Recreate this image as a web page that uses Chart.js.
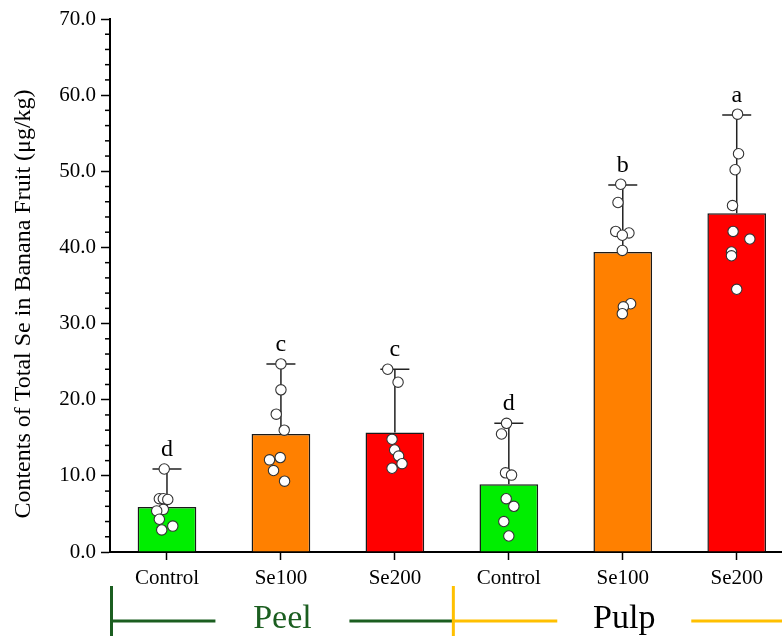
<!DOCTYPE html>
<html>
<head>
<meta charset="utf-8">
<script src="https://cdn.jsdelivr.net/npm/chart.js@4.4.1/dist/chart.umd.min.js"></script>
<style>
html,body{margin:0;padding:0;background:#fff;overflow:hidden;}
#wrap{position:absolute;left:0;top:0;width:800px;height:636px;}
</style>
</head>
<body>
<div id="wrap"><canvas id="c"></canvas></div>
<script>
// ---- data ----
const categories = ['Control', 'Se100', 'Se200', 'Control', 'Se100', 'Se200'];
const groups = ['Peel', 'Pulp'];
const means = [5.9, 15.5, 15.7, 8.9, 39.4, 44.5];
const upperSD = [10.9, 24.7, 24.0, 16.9, 48.2, 57.4];
const letters = ['d', 'c', 'c', 'd', 'b', 'a'];
const yTicks = [0, 10, 20, 30, 40, 50, 60, 70];

const peelControl = [10.9, 7.0, 7.0, 6.9, 5.6, 5.4, 4.3, 3.4, 2.9];
const peelSe100 = [24.7, 21.3, 18.1, 16.0, 12.4, 12.1, 10.7, 9.3];
const peelSe200 = [24.0, 22.3, 14.8, 13.4, 12.6, 11.6, 11.0];
const pulpControl = [16.9, 15.5, 10.4, 10.1, 7.0, 6.0, 4.0, 2.1];
const pulpSe100 = [48.3, 45.9, 42.1, 41.9, 41.6, 39.6, 32.6, 32.2, 31.3];
const pulpSe200 = [57.5, 52.3, 50.2, 45.5, 42.1, 41.1, 39.4, 38.9, 34.5];
// horizontal jitter of the replicate dots, in category widths
const jitterPeelControl = [-0.024, -0.067, -0.032, 0.007, -0.032, -0.090, -0.067, 0.051, -0.046];
const jitterPeelSe100 = [0, 0, -0.041, 0.029, -0.006, -0.100, -0.065, 0.032];
const jitterPeelSe200 = [-0.063, 0.028, -0.025, -0.002, 0.033, 0.063, -0.025];
const jitterPulpControl = [-0.020, -0.064, -0.029, 0.024, -0.023, 0.044, -0.044, 0];
const jitterPulpSe100 = [-0.018, -0.042, -0.062, 0.054, -0.004, -0.004, 0.069, 0.005, -0.004];
const jitterPulpSe200 = [0.007, 0.016, -0.014, -0.037, -0.032, 0.115, -0.046, -0.046, 0];

const pointSets = [peelControl, peelSe100, peelSe200, pulpControl, pulpSe100, pulpSe200];
const jitterSets = [jitterPeelControl, jitterPeelSe100, jitterPeelSe200, jitterPulpControl, jitterPulpSe100, jitterPulpSe200];

const barColors = ['#00ee00', '#ff8000', '#ff0000', '#00ee00', '#ff8000', '#ff0000'];
const SERIF = "'Liberation Serif', 'Times New Roman', serif";
const GREEN_DARK = '#1b5e20';
const YELLOW = '#ffc000';

const scatterData = [];
pointSets.forEach((vals, i) => vals.forEach((v, k) => scatterData.push({x: i + jitterSets[i][k], y: v})));

const errorPlugin = {
  id: 'errorBars',
  afterDatasetDraw(chart, args) {
    if (args.index !== 0) return;
    const ctx = chart.ctx, xs = chart.scales.x, ys = chart.scales.y;
    ctx.save();
    ctx.strokeStyle = '#222';
    ctx.lineWidth = 1.5;
    means.forEach((m, i) => {
      const x = xs.getPixelForValue(i);
      const y1 = ys.getPixelForValue(m), y2 = ys.getPixelForValue(upperSD[i]);
      ctx.beginPath();
      ctx.moveTo(x, y1); ctx.lineTo(x, y2);
      ctx.moveTo(x - 14.5, y2); ctx.lineTo(x + 14.5, y2);
      ctx.stroke();
    });
    ctx.restore();
  },
  afterDraw(chart) {
    const ctx = chart.ctx, xs = chart.scales.x, ys = chart.scales.y, ca = chart.chartArea;
    ctx.save();
    // letters
    ctx.fillStyle = '#000';
    ctx.font = '24px ' + SERIF;
    ctx.textAlign = 'center';
    ctx.textBaseline = 'alphabetic';
    letters.forEach((l, i) => {
      ctx.fillText(l, xs.getPixelForValue(i), ys.getPixelForValue(upperSD[i]) - 13);
    });
    // minor ticks on y
    ctx.strokeStyle = '#000';
    ctx.lineWidth = 1.5;
    for (let v = 2; v < 70; v += 2) {
      if (v % 10 === 0) continue;
      const y = ys.getPixelForValue(v);
      ctx.beginPath();
      ctx.moveTo(ca.left - 5, y); ctx.lineTo(ca.left, y);
      ctx.stroke();
    }
    // y title
    ctx.save();
    ctx.translate(24, 304);
    ctx.rotate(-Math.PI / 2);
    ctx.font = '24px ' + SERIF;
    ctx.textAlign = 'center';
    ctx.textBaseline = 'middle';
    ctx.fillStyle = '#000';
    ctx.fillText('Contents of Total Se in Banana Fruit (\u03bcg/kg)', 0, 0);
    ctx.restore();
    // group annotation
    const w = xs.getPixelForValue(1) - xs.getPixelForValue(0);
    const e0 = xs.getPixelForValue(0) - w / 2 + 1.5;
    const e1 = e0 + 3 * w, e2 = e0 + 6 * w;
    const lineY = 621, gap = 67;
    const c0 = (e0 + e1) / 2, c1 = (e1 + e2) / 2;
    ctx.lineWidth = 3;
    ctx.strokeStyle = GREEN_DARK;
    ctx.beginPath();
    ctx.moveTo(e0, lineY); ctx.lineTo(c0 - gap, lineY);
    ctx.moveTo(c0 + gap, lineY); ctx.lineTo(e1, lineY);
    ctx.moveTo(e0, 586); ctx.lineTo(e0, 640);
    ctx.stroke();
    ctx.strokeStyle = YELLOW;
    ctx.beginPath();
    ctx.moveTo(e1, lineY); ctx.lineTo(c1 - gap, lineY);
    ctx.moveTo(c1 + gap, lineY); ctx.lineTo(e2, lineY);
    ctx.moveTo(e1, 586); ctx.lineTo(e1, 640);
    ctx.stroke();
    ctx.font = '34px ' + SERIF;
    ctx.textAlign = 'center';
    ctx.textBaseline = 'alphabetic';
    ctx.fillStyle = GREEN_DARK;
    ctx.fillText(groups[0], c0, 628);
    ctx.fillStyle = '#000';
    ctx.fillText(groups[1], c1, 628);
    ctx.restore();
  }
};

new Chart(document.getElementById('c'), {
  type: 'bar',
  data: {
    labels: categories,
    datasets: [
      {
        type: 'bar',
        data: means,
        backgroundColor: barColors,
        borderColor: '#1a1a1a',
        borderWidth: 1.5,
        barPercentage: 0.515,
        categoryPercentage: 1,
        grouped: false,
        order: 2,
        xAxisID: 'x', yAxisID: 'y'
      },
      {
        type: 'scatter',
        data: scatterData,
        pointRadius: 5.2,
        pointBackgroundColor: '#fff',
        pointBorderColor: '#333',
        pointBorderWidth: 1.1,
        showLine: false,
        order: 1,
        xAxisID: 'xs', yAxisID: 'y'
      }
    ]
  },
  options: {
    responsive: true,
    maintainAspectRatio: false,
    animation: false,
    devicePixelRatio: 1,
    layout: {padding: {top: 19, right: 6, bottom: 0, left: 0}},
    plugins: {legend: {display: false}, tooltip: {enabled: false}},
    scales: {
      x: {
        type: 'category',
        offset: true,
        grid: {offset: false, drawOnChartArea: false, drawTicks: true, tickLength: 8, tickColor: '#000', tickWidth: 1.5},
        border: {display: true, color: '#000', width: 2},
        ticks: {color: '#000', font: {family: SERIF, size: 21}, padding: 6, maxRotation: 0},
        afterFit(s) { s.height = 84; }
      },
      xs: {
        type: 'linear',
        display: false,
        offset: false,
        bounds: 'ticks',
        min: -0.5, max: 5.5
      },
      y: {
        type: 'linear',
        min: 0, max: 70,
        afterBuildTicks(s) { s.ticks = yTicks.map(v => ({value: v})); },
        grid: {drawOnChartArea: false, drawTicks: true, tickLength: 9, tickColor: '#000', tickWidth: 1.5},
        border: {display: true, color: '#000', width: 2},
        ticks: {color: '#000', font: {family: SERIF, size: 21}, padding: 5, callback: v => v.toFixed(1)},
        afterFit(s) { s.width = 110; }
      }
    }
  },
  plugins: [errorPlugin]
});
</script>
</body>
</html>
